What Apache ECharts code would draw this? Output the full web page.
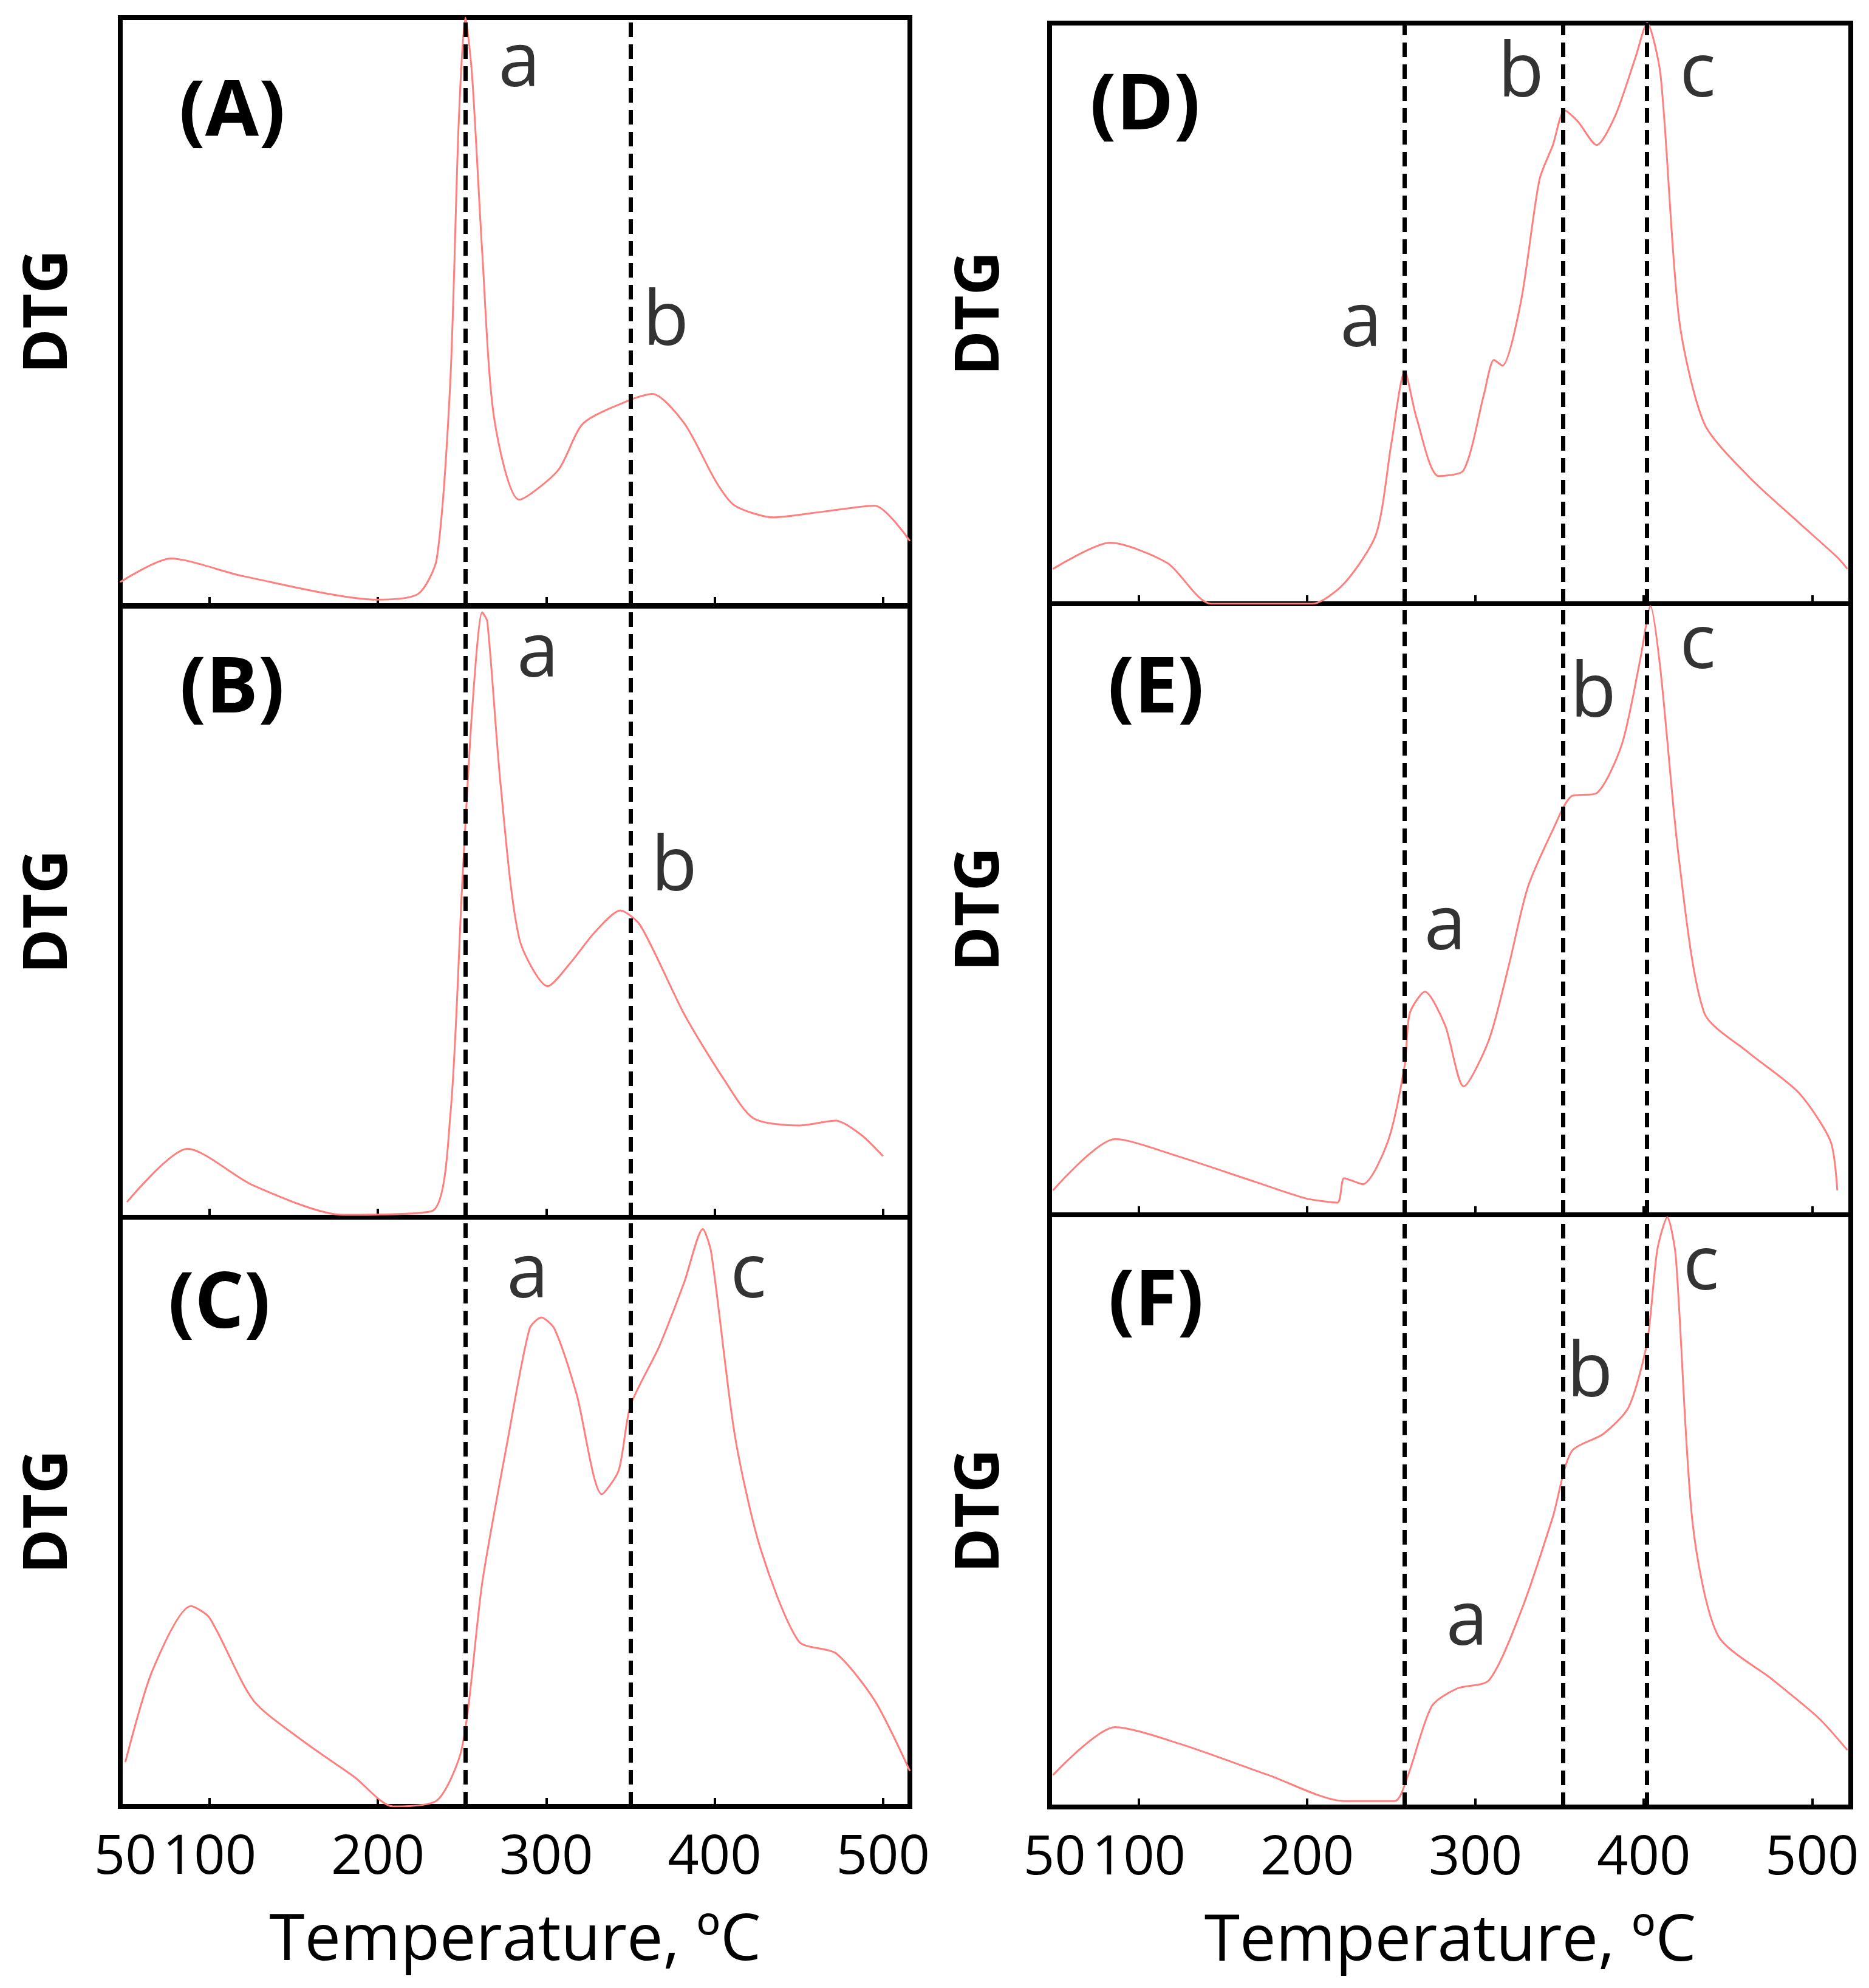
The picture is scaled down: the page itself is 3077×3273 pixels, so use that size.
<!DOCTYPE html>
<html>
<head>
<meta charset="utf-8">
<script src="https://cdn.jsdelivr.net/npm/echarts@6/dist/echarts.min.js"></script>
<style>html,body{margin:0;background:#fff}#chart{width:3077px;height:3273px}</style>
</head>
<body>
<div id="chart"></div>
<script>
// DTG curves, [temperature, relative rate %]
var curveA = [[47,4],[77,8],[120,5],[200,1],[224,2],[235,8],[243,38],[248,82],[252,100],[256,90],[262,60],[269,32],[284,18],[307,23],[322,31],[350,35],[363,36],[382,31],[401,21],[412,17],[435,15],[465,16],[495,17],[516,11]];
var curveB = [[51,2.5],[87,11.2],[126,5.2],[179,0.4],[232,1],[243,16.6],[250,54],[256,83],[262,99],[265,97.5],[273,70.5],[284,45.6],[301,37.8],[314,41.5],[329,46.7],[344,50.2],[356,47.7],[382,33.2],[405,22.8],[423,16.2],[450,15],[472,15.8],[487,13.5],[500,10]];
var curveC = [[50,7.5],[66,23],[89,34],[100,32],[126,18],[156,11],[186,5],[209,0],[235,1],[250,10],[262,38],[277,62],[290,81],[297,83],[305,81],[318,70],[333,53],[343,57],[350,68],[367,78],[382,89],[393,98],[398,94],[412,63],[427,44],[450,28],[472,26],[495,18],[516,6]];
var curveD = [[49,6],[83,10.5],[117,7],[143,0],[203,0],[222,3.5],[241,12],[250,27.5],[258,40],[265,32],[278,22],[293,23],[305,36],[311,42],[316,41],[327,52],[338,73],[346,79],[353,85],[361,83],[372,79],[383,84],[395,94],[402,100],[410,91],[421,49],[436,31],[462,22],[492,14],[515,8],[521,6]];
var curveE = [[49,4],[86,12.4],[124,9.5],[169,5.4],[199,2.7],[218,2],[222,6],[233,5],[248,12],[258,24.5],[261,33],[270,36.5],[282,31],[293,21],[308,28.6],[320,41],[331,53.5],[346,63],[357,68.5],[372,69],[387,77],[398,91],[404,99.6],[410,89],[421,58],[436,33],[462,26.6],[492,20],[511,12],[515,4]];
var curveF = [[49,5.4],[86,13.5],[124,10.7],[177,5.4],[222,1],[252,1],[260,5.4],[274,17],[289,20],[308,21.4],[327,33],[346,49],[357,60],[376,63],[391,67.5],[402,78.5],[408,94],[414,99.6],[419,93],[429,48],[444,29],[477,21.4],[504,15],[521,9.6]];
var curves = [curveA, curveB, curveC, curveD, curveE, curveF];

// peak letters [T, level, text]
var peaksA = [[284,92,'a'],[371,48,'b']];
var peaksB = [[295,92,'a'],[376,57,'b']];
var peaksC = [[289,90,'a'],[420,90,'c']];
var peaksD = [[232,48,'a'],[327,91,'b'],[432,91,'c']];
var peaksE = [[282,47,'a'],[370,85,'b'],[432,93,'c']];
var peaksF = [[295,31,'a'],[368,73,'b'],[434,91,'c']];
var peaks = [peaksA, peaksB, peaksC, peaksD, peaksE, peaksF];

var panelNames = ['(A)','(B)','(C)','(D)','(E)','(F)'];
var guidesLeft = [252, 350];
var guidesRight = [258, 352, 402];
var tickValues = [50, 100, 200, 300, 400, 500];

var grids = [
	{left:198, top:29, width:1300, height:968},
	{left:198, top:998, width:1300, height:1006},
	{left:198, top:2004, width:1300, height:970},
	{left:1728, top:38, width:1319, height:956},
	{left:1728, top:994, width:1319, height:1006},
	{left:1728, top:2000, width:1319, height:975}
];
var labelPos = [[382,188],[382,1137],[361,2150],[1885,177],[1903,1137],[1903,2146]];

var chart = echarts.init(document.getElementById('chart'));
var xAxes = [], yAxes = [], series = [], graphics = [];
for (var i = 0; i < 6; i++) {
	var right = i >= 3;
	var bottom = (i === 2 || i === 5);
	grids[i].show = true;
	grids[i].borderColor = '#000';
	grids[i].borderWidth = 8;
	xAxes.push({
		type:'value', gridIndex:i, min:47, max: right ? 523 : 516,
		axisLine:{show:false}, splitLine:{show:false},
		axisTick:{show:true, inside:true, length:14, customValues:[100,200,300,400,500], lineStyle:{color:'#000', width:4}},
		axisLabel:{show:bottom, customValues:tickValues, margin:40, fontSize:90, color:'#000', fontFamily:'Open Sans'},
		name: bottom ? 'Temperature, ºC' : '', nameLocation:'middle', nameGap:170,
		nameTextStyle:{fontSize:106, color:'#000', fontFamily:'Open Sans'}
	});
	yAxes.push({
		type:'value', gridIndex:i, min:0, max:100,
		axisLine:{show:false}, axisTick:{show:false}, axisLabel:{show:false}, splitLine:{show:false},
		name:'DTG', nameLocation:'middle', nameRotate:90, nameGap: right ? 62 : 66,
		nameTextStyle:{fontSize:100, fontWeight:'bold', color:'#000', fontFamily:'Open Sans'}
	});
	var guides = right ? guidesRight : guidesLeft;
	series.push({
		type:'line', xAxisIndex:i, yAxisIndex:i, data:curves[i], smooth:0.25, showSymbol:false,
		lineStyle:{color:'#ff7f7f', width:3}, silent:true,
		markLine:{silent:true, symbol:'none', label:{show:false},
			lineStyle:{color:'#000', type:[24,12], width:7},
			data: guides.map(function(g){ return {xAxis:g}; })}
	});
	series.push({
		type:'scatter', xAxisIndex:i, yAxisIndex:i, symbolSize:0, silent:true,
		data: peaks[i].map(function(p){ return {value:[p[0],p[1]], name:p[2]}; }),
		label:{show:true, position:'inside', formatter:'{b}', fontSize:124, color:'#000', fontFamily:'Open Sans'}
	});
	graphics.push({
		type:'text', x:labelPos[i][0], y:labelPos[i][1],
		style:{text:panelNames[i], fontSize:128, fontWeight:'bold', fill:'#000', fontFamily:'Open Sans', align:'center', verticalAlign:'middle'}
	});
}

var option = {
	animation:false,
	backgroundColor:'#fff',
	grid:grids,
	xAxis:xAxes,
	yAxis:yAxes,
	series:series,
	graphic:graphics
};
chart.setOption(option);
</script>
</body>
</html>
